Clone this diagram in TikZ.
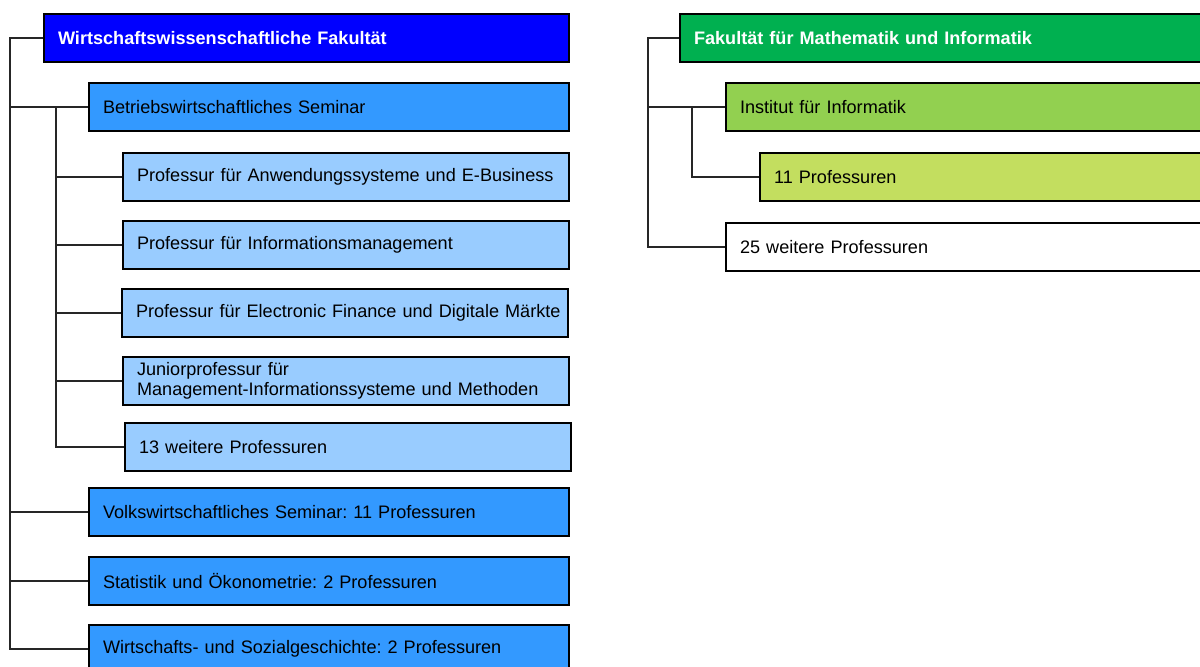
\documentclass[tikz,border=0pt]{standalone}
\usepackage{fontspec}
\setmainfont{Liberation Sans}
\usetikzlibrary{positioning}
\definecolor{wiwiblue}{RGB}{0,0,255}
\definecolor{seminarblue}{RGB}{51,153,255}
\definecolor{profblue}{RGB}{153,204,255}
\definecolor{mathgreen}{RGB}{0,176,80}
\definecolor{infgreen}{RGB}{146,208,80}
\definecolor{profgreen}{RGB}{195,222,95}
\colorlet{linegray}{black!85}
\frenchspacing

\begin{document}
\begin{tikzpicture}[x=0.02cm,y=-0.02cm,every node/.style={font=\fontsize{10.3}{11.4}\selectfont},
  box/.style={rectangle,draw=black,line width=1.2pt,anchor=north west,minimum height=.96cm,inner xsep=.28cm,inner ysep=1pt,align=left},
  fak/.style={box,font=\fontsize{10.3}{11.4}\selectfont\bfseries,text=white},
  conn/.style={draw=linegray,line width=1.4pt}]
    \clip (0,0) rectangle (1200,666);
    % Wirtschaftswissenschaftliche Fakultaet
    \node[fak,fill=wiwiblue,text width=9.94cm] (wiwi) at (43,13) {Wirtschaftswissenschaftliche Fakultät};
    \node[box,fill=seminarblue,text width=9.04cm] (bwl) at (88,82) {Betriebswirtschaftliches Seminar};
    \node[box,fill=profblue,text width=8.36cm] (aseb) at (122,152) {\mbox{Professur für Anwendungssysteme und E-Business}};
    \node[box,fill=profblue,text width=8.36cm] (im) at (122,220) {Professur für Informationsmanagement};
    \node[box,fill=profblue,text width=8.36cm] (efin) at (121,288) {\mbox{Professur für Electronic Finance und Digitale Märkte}};
    \node[box,fill=profblue,text width=8.36cm] (jpmis) at (122,356) {Juniorprofessur für\\Management-Informationssysteme und Methoden};
    \node[box,fill=profblue,text width=8.36cm] (bwlrest) at (124,422) {13 weitere Professuren};
    \node[box,fill=seminarblue,text width=9.04cm] (vwl) at (88,487) {Volkswirtschaftliches Seminar: 11 Professuren};
    \node[box,fill=seminarblue,text width=9.04cm] (stat) at (88,556) {Statistik und Ökonometrie: 2 Professuren};
    \node[box,fill=seminarblue,text width=9.04cm] (wsg) at (88,624) {Wirtschafts- und Sozialgeschichte: 2 Professuren};
    \coordinate (wspine) at (10,37);
    \coordinate (bspine) at (56,104);
    \draw[conn] (wiwi.west) -- (wiwi.west -| wspine) -- (wsg.west -| wspine) -- (wsg.west);
    \foreach \n in {bwl,vwl,stat} \draw[conn] (\n.west) -- (\n.west -| wspine);
    \draw[conn] (bwl.west -| bspine) -- (bwlrest.west -| bspine) -- (bwlrest.west);
    \foreach \n in {aseb,im,efin,jpmis} \draw[conn] (\n.west) -- (\n.west -| bspine);
    % Fakultaet fuer Mathematik und Informatik
    \node[fak,fill=mathgreen,text width=10.16cm] (mathinf) at (679,13) {Fakultät für Mathematik und Informatik};
    \node[box,fill=infgreen,text width=9.24cm] (ifi) at (725,82) {Institut für Informatik};
    \node[box,fill=profgreen,text width=8.56cm] (ifiprof) at (759,152) {11 Professuren};
    \node[box,fill=white,text width=9.24cm] (mirest) at (725,222) {25 weitere Professuren};
    \coordinate (mspine) at (648,37);
    \coordinate (ispine) at (692,104);
    \draw[conn] (mathinf.west) -- (mathinf.west -| mspine) -- (mirest.west -| mspine) -- (mirest.west);
    \draw[conn] (ifi.west) -- (ifi.west -| mspine);
    \draw[conn] (ifi.west -| ispine) -- (ifiprof.west -| ispine) -- (ifiprof.west);
  \end{tikzpicture}
\end{document}
